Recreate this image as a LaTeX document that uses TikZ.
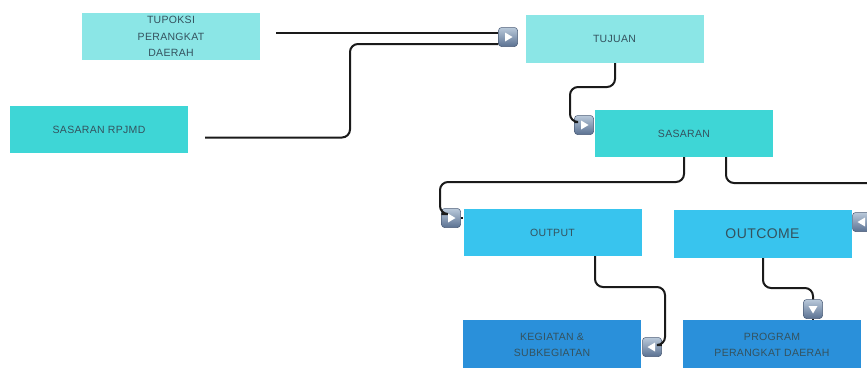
\documentclass[tikz,border=0pt]{standalone}
\usepackage{fontspec}
\setmainfont{Liberation Sans}[LetterSpace=3]
\usetikzlibrary{calc}
\definecolor{pale}{HTML}{8BE6E6}
\definecolor{teal}{HTML}{3ED6D6}
\definecolor{sky}{HTML}{38C4EE}
\definecolor{deep}{HTML}{2A90DA}
\definecolor{ink}{HTML}{34525E}
\definecolor{btntop}{HTML}{B9C9DA}
\definecolor{btnbot}{HTML}{5A7192}
\definecolor{wire}{HTML}{1A1A1A}
\tikzset{
  box/.style={rectangle, inner sep=2pt, minimum width=178pt, minimum height=47pt,
    align=center, text=ink, font=\fontsize{10.5}{16.5}\selectfont},
  btn/.style={rectangle, rounded corners=3pt, minimum size=19pt, inner sep=0pt,
    top color=btntop, bottom color=btnbot, draw=btnbot!80!black, line width=0.5pt},
  wireline/.style={draw=wire, line width=2pt, rounded corners=8pt},
  tri/.style={fill=white}
}
\begin{document}
\begin{tikzpicture}[x=1pt,y=-1pt]
\useasboundingbox (0,0) rectangle (867,367);

% boxes
\node[box, fill=pale] (tupoksi) at (171,36.5) {TUPOKSI\\PERANGKAT\\DAERAH};
\node[box, fill=teal] (rpjmd) at (99,129.5) {SASARAN RPJMD};
\node[box, fill=pale, minimum height=48pt] (tujuan) at (614.5,39) {TUJUAN};
\node[box, fill=teal] (sasaran) at (684,133.5) {SASARAN};
\node[box, fill=sky] (output) at (552.5,232.5) {OUTPUT};
\node[box, fill=sky, minimum height=48pt, font=\fontsize{14}{16}\selectfont] (outcome) at (762.5,234) {OUTCOME};
\node[box, fill=deep, minimum height=50pt] (kegiatan) at (552,345) {KEGIATAN \&\\SUBKEGIATAN};
\node[box, fill=deep, minimum height=50pt] (program) at (772,345) {PROGRAM\\PERANGKAT DAERAH};

% connector buttons
\node[btn] (b1) at (508,37) {};
\node[btn] (b2) at (584,125) {};
\node[btn] (b3) at (451,218) {};
\node[btn] (b4) at (862,222) {};
\node[btn] (b5) at (652,347) {};
\node[btn] (b6) at (813,309) {};

% wire end points
\coordinate (s1) at (276,33);
\coordinate (s2) at (205,137.5);
\coordinate (e5) at (880,183);

% wires
\draw[wireline] (s1) -- (s1 -| b1.west);
\draw[wireline] (s2) -- (350,137.5) -- (350,44) -- (b1.west |- 0,44);
\draw[wireline] ([xshift=0.5pt]tujuan.south) -- (615,87) -- (570,87) -- (570,122) -- (b2.west |- 0,122);
\draw[wireline] (sasaran.south) -- (684,182) -- (440,182) -- (440,214) -- (b3.west |- 0,214);
\draw[wireline] (b3.east) -- (b3.east -| output.west);
\draw[wireline] ([xshift=42pt]sasaran.south) -- (726,183) -- (e5);
\draw[wireline] ([xshift=42.5pt]output.south) -- (595,287) -- (665,287) -- (665,345) -- (b5.east |- 0,345);
\draw[wireline] ([xshift=0.5pt]outcome.south) -- (763,288) -- (813,288) -- (b6.north);
\draw[wireline] (b6.south) -- (b6.south |- program.north);

% button glyphs
\fill[tri] ($(b1)+(-3,-4.5)$) -- ($(b1)+(4.5,0)$) -- ($(b1)+(-3,4.5)$) -- cycle;
\fill[tri] ($(b2)+(-3,-4.5)$) -- ($(b2)+(4.5,0)$) -- ($(b2)+(-3,4.5)$) -- cycle;
\fill[tri] ($(b3)+(-3,-4.5)$) -- ($(b3)+(4.5,0)$) -- ($(b3)+(-3,4.5)$) -- cycle;
\fill[tri] ($(b4)+(3,-4.5)$) -- ($(b4)+(-4.5,0)$) -- ($(b4)+(3,4.5)$) -- cycle;
\fill[tri] ($(b5)+(3,-4.5)$) -- ($(b5)+(-4.5,0)$) -- ($(b5)+(3,4.5)$) -- cycle;
\fill[tri] ($(b6)+(-4.5,-3)$) -- ($(b6)+(0,4.5)$) -- ($(b6)+(4.5,-3)$) -- cycle;
\end{tikzpicture}
\end{document}
